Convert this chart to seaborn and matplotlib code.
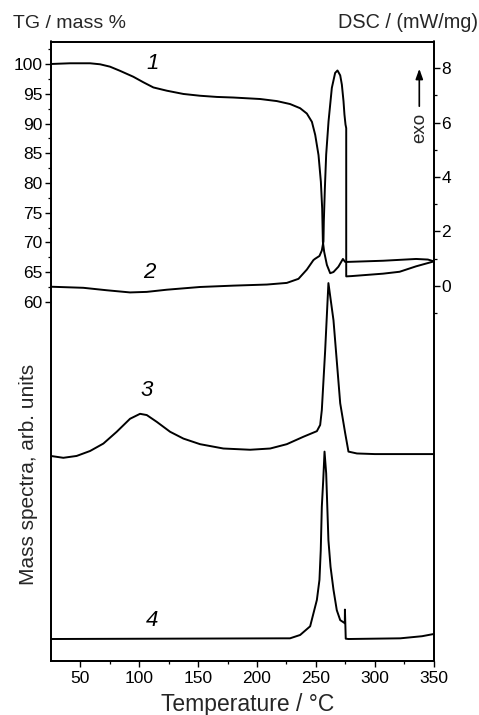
import numpy as np
import pandas as pd
import matplotlib
matplotlib.use("Agg")
import matplotlib.pyplot as plt
from matplotlib.ticker import FixedLocator, NullLocator
import seaborn as sns

# ---------------- data ----------------
# Curve 1: TG, mass %
t_tg = [25, 41.4, 58.4, 66.9, 75.3, 83.8, 95.1, 103.6, 112.1, 123.5,
        137.6, 151.7, 165.9, 180, 202.7, 216.9, 228.1, 236.6, 242.3, 246.6,
        249.4, 252.2, 254.2, 255.3, 255.9, 257, 259.3, 262.1, 264.9, 269.1,
        272.9, 274.8, 276.3, 307, 335, 345, 350]
tg = [100.05, 100.17, 100.17, 100.0, 99.6, 98.9, 97.9, 96.97, 96.1, 95.55,
      95.0, 94.7, 94.5, 94.4, 94.15, 93.8, 93.3, 92.6, 91.7, 90.3,
      88.1, 84.7, 80.2, 75.7, 70.1, 68.4, 66.2, 64.8, 65.0, 65.9,
      67.2, 66.7, 66.7, 66.9, 67.2, 67.1, 66.8]

# Curve 2: DSC, mW/mg
t_dsc = [25, 52.7, 72.5, 92.3, 106.5, 123.5, 151.7, 180, 208.4, 225.3,
         235.2, 242.3, 247.9, 249.4, 253, 255, 256.4, 256.7, 257.6, 258.7,
         260.7, 263.5, 266.3, 268.3, 270.6, 272, 273.4, 274.2, 275.1, 275.7,
         275.7, 280, 307, 321, 335, 350]
dsc = [-0.03, -0.07, -0.16, -0.24, -0.22, -0.14, -0.04, 0.01, 0.05, 0.11,
       0.26, 0.6, 0.95, 1.0, 1.1, 1.3, 1.64, 2.37, 3.6, 4.83,
       6.05, 7.28, 7.83, 7.92, 7.74, 7.4, 6.79, 6.3, 5.93, 5.8,
       0.35, 0.36, 0.45, 0.52, 0.72, 0.9]

# Curve 3: mass spectrum (arb. units)
t_ms3 = [25, 35.7, 47, 58.4, 69.7, 81, 92.3, 100.8, 106.5, 115,
         126.3, 137.6, 151.7, 171.5, 194.2, 211.2, 225.3, 239.4, 250.8, 253.6,
         255, 257.8, 260.6, 264.9, 270.6, 274.8, 277.6, 284.8, 300, 350]
ms3 = [33.1, 32.8, 33.1, 33.9, 35.1, 37.0, 39.1, 39.9, 39.7, 38.6,
       37.0, 35.9, 35.0, 34.3, 34.1, 34.3, 35.0, 36.2, 37.1, 38.1,
       40.5, 50.0, 61.0, 55.0, 41.6, 36.8, 33.8, 33.5, 33.4, 33.4]

# Curve 4: mass spectrum (arb. units)
t_ms4 = [25, 222.5, 228, 236.6, 245.1, 250.8, 253, 254.1, 255, 256.2,
         257.3, 258.7, 260.6, 262.4, 264.9, 267.7, 270.6, 274.5, 274.6, 275.3,
         277.6, 321.5, 340, 350]
ms4 = [3.55, 3.66, 3.66, 4.2, 5.6, 9.85, 13.1, 17.9, 24.9, 29.2,
       33.8, 30.3, 19.5, 15.2, 11.5, 8.2, 6.6, 6.1, 8.3, 3.6,
       3.55, 3.66, 4.0, 4.36]

curve_labels = ["1", "2", "3", "4"]

x_major = [50, 100, 150, 200, 250, 300, 350]
x_minor = [75, 125, 175, 225, 275, 325]
tg_major = [60, 65, 70, 75, 80, 85, 90, 95, 100]
tg_minor = [62.5, 67.5, 72.5, 77.5, 82.5, 87.5, 92.5, 97.5, 102.5]
dsc_major = [0, 2, 4, 6, 8]
dsc_minor = [-1, 1, 3, 5, 7]

# ---------------- style ----------------
sns.set_theme(style="ticks")
plt.rcParams['font.family'] = ['Liberation Sans', 'DejaVu Sans']
plt.rcParams['axes.linewidth'] = 1.1

fig = plt.figure(figsize=(4.79, 7.15), dpi=100)
ax = fig.add_axes([50.7 / 479, 1 - 661 / 715, (433.8 - 50.7) / 479, (661 - 41.5) / 715])
ax_dsc = ax.twinx()
ax_ms = ax.twinx()

lw = 1.4
kw = dict(color="black", linewidth=lw, sort=False, estimator=None)
sns.lineplot(data=pd.DataFrame({"T": t_tg, "v": tg}), x="T", y="v", ax=ax, **kw)
sns.lineplot(data=pd.DataFrame({"T": t_dsc, "v": dsc}), x="T", y="v", ax=ax_dsc, **kw)
sns.lineplot(data=pd.DataFrame({"T": t_ms3, "v": ms3}), x="T", y="v", ax=ax_ms, **kw)
sns.lineplot(data=pd.DataFrame({"T": t_ms4, "v": ms4}), x="T", y="v", ax=ax_ms, **kw)

for a in (ax, ax_dsc, ax_ms):
    a.set_xlabel("")
    a.set_ylabel("")
    for s in a.spines.values():
        s.set_color("black")
        s.set_linewidth(1.1)

ax.set_xlim(25, 350)
ax.set_ylim(-0.54, 103.84)
ax_dsc.set_ylim(-13.79, 8.985)
ax_ms.set_ylim(0, 100)

ax.xaxis.set_major_locator(FixedLocator(x_major))
ax.xaxis.set_minor_locator(FixedLocator(x_minor))
ax.yaxis.set_major_locator(FixedLocator(tg_major))
ax.yaxis.set_minor_locator(FixedLocator(tg_minor))
ax_dsc.yaxis.set_major_locator(FixedLocator(dsc_major))
ax_dsc.yaxis.set_minor_locator(FixedLocator(dsc_minor))
ax_ms.yaxis.set_major_locator(NullLocator())
ax_ms.yaxis.set_minor_locator(NullLocator())

tick_kw = dict(direction="out", colors="black", labelsize=12.5)
ax.tick_params(axis="both", which="major", length=4, width=1.0, pad=2, **tick_kw)
ax.tick_params(axis="both", which="minor", length=2.3, width=0.9, **tick_kw)
ax.tick_params(axis="x", which="major", pad=3)
ax_dsc.tick_params(axis="y", which="major", length=4, width=1.0, pad=1.5, **tick_kw)
ax_dsc.tick_params(axis="y", which="minor", length=2.3, width=0.9, **tick_kw)

for a in (ax_dsc, ax_ms):
    a.patch.set_visible(False)

# curve numbers
lab_kw = dict(fontsize=16, style="italic", ha="center", va="center", color="black")
ax.text(111.8, 100.2, curve_labels[0], **lab_kw)
ax.text(108.8, 64.9, curve_labels[1], **lab_kw)
ax_ms.text(106.7, 43.7, curve_labels[2], **lab_kw)
ax_ms.text(110.6, 6.6, curve_labels[3], **lab_kw)

# axis titles
fig.text(13 / 479, 1 - 23 / 715, "TG / mass %", fontsize=14, ha="left", va="center")
fig.text(478 / 479, 1 - 23 / 715, "DSC / (mW/mg)", fontsize=14.3, ha="right", va="center")
fig.text(28.5 / 479, 1 - 474 / 715, "Mass spectra, arb. units", fontsize=15,
         rotation=90, ha="center", va="center")
fig.text(247.5 / 479, 1 - 705 / 715, "Temperature / °C", fontsize=16.5, ha="center", va="center")

# exo arrow
fig.text(419.3 / 479, 1 - 127.5 / 715, "exo", fontsize=13.5, rotation=90, ha="center", va="center")
ax.annotate("", xy=(419.3 / 479, 1 - 66 / 715), xytext=(419.3 / 479, 1 - 109 / 715),
            xycoords="figure fraction", textcoords="figure fraction",
            arrowprops=dict(arrowstyle="-|>,head_length=0.5,head_width=0.18", color="black", lw=1.2))

fig.savefig("out.png", dpi=100)
